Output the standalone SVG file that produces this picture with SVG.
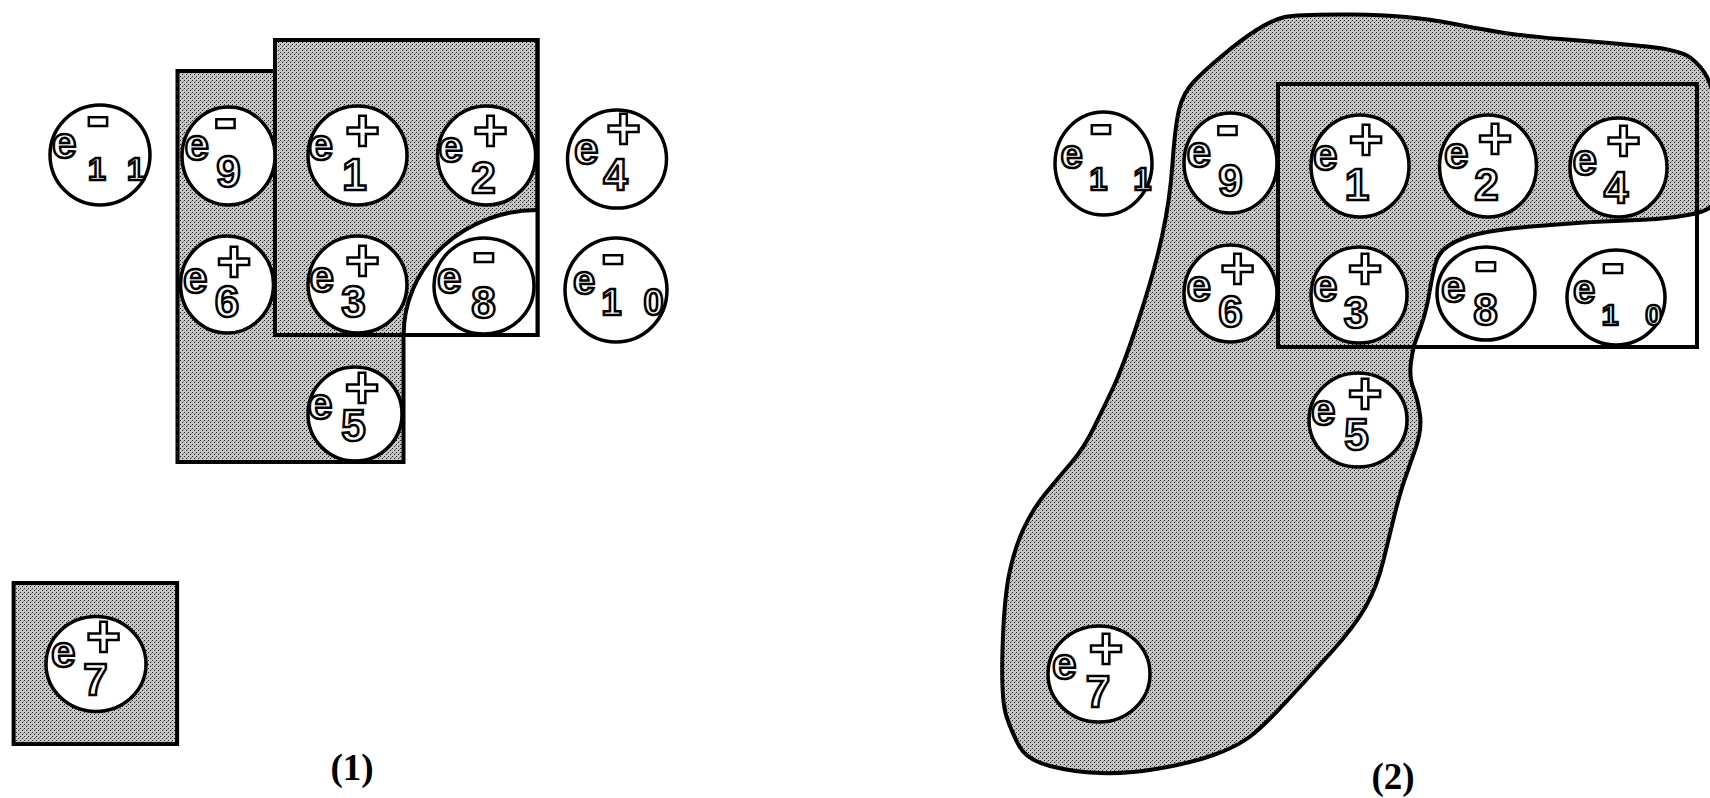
<svg xmlns="http://www.w3.org/2000/svg" width="1710" height="798" viewBox="0 0 1710 798">
<defs>
<pattern id="dots" width="4" height="4" patternUnits="userSpaceOnUse">
<rect width="4" height="4" fill="#c6c6c6"/>
<rect width="1" height="1" fill="#222"/>
<rect x="2" y="2" width="1" height="1" fill="#222"/>
<rect x="3" y="1" width="1" height="1" fill="#888"/>
</pattern>
<style>
.node{fill:#fff;stroke:#000;stroke-width:3.5}
.shade{fill:url(#dots);stroke:#000;stroke-width:4}
.line{fill:none;stroke:#000;stroke-width:4}
.t{font-family:"Liberation Sans",Arial,Helvetica,sans-serif;font-weight:bold;fill:#fff;stroke:#000;stroke-width:2.5}
.e{font-size:44px}
.sg{font-size:60px;text-anchor:middle}
.mn{font-size:72px;text-anchor:middle}
.sub{font-size:44px;text-anchor:middle}
.sub2{font-size:32px;text-anchor:middle}
.lbl{font-family:"Liberation Serif","Times New Roman",serif;font-weight:bold;font-size:37px;text-anchor:middle;fill:#000}
</style>
</defs>
<rect width="1710" height="798" fill="#fff"/>

<!-- panel 1 regions -->
<g id="p1-regions">
<rect class="shade" x="177.5" y="71" width="226" height="391"/>
<rect class="shade" x="275" y="40" width="262.5" height="295"/>
<path d="M403.6,335 A134,125 0 0 1 537.5,210 L537.5,335 Z" fill="#fff"/>
<path class="line" d="M403.6,335 A134,125 0 0 1 537.5,210"/>
<rect class="line" x="275" y="40" width="262.5" height="295"/>
<rect class="shade" x="13.6" y="583" width="163.5" height="161"/>
</g>

<!-- panel 2 regions -->
<g id="p2-regions">
<path class="shade" d="M1284.75,17 Q1297.5,14 1353,14.5 Q1409,15 1452,23.5 Q1495,32 1520,35 Q1545,38 1579,40.5 Q1613,43 1647,46.5 Q1681,50 1691.5,58.5 Q1702,67 1707,77 Q1712,87 1714,98.5 Q1716,110 1716,155 Q1716,200 1712,205.5 Q1708,211 1690.5,214.5 Q1673,218 1656.5,219 Q1640,220 1615,221 Q1590,222 1570,223.5 Q1550,225 1531.5,226.5 Q1513,228 1496.5,230.5 Q1480,233 1468.5,236.5 Q1457,240 1447.5,246.5 Q1438,253 1435,265 Q1432,277 1429.5,292 Q1427,307 1423.5,318.5 Q1420,330 1416.5,338.5 Q1413,347 1411,362 Q1409,377 1413.5,388.5 Q1418,400 1420,415 Q1422,430 1415.5,448.5 Q1409,467 1404.5,480 Q1400,493 1395,513 Q1390,533 1383.5,560 Q1377,587 1365.5,607 Q1354,627 1331.5,652 Q1309,677 1286,702 Q1263,727 1249.5,737 Q1236,747 1213.5,755 Q1191,763 1159,768.5 Q1127,774 1100,773 Q1073,772 1050,766 Q1027,760 1019.5,746.5 Q1012,733 1006.5,716.5 Q1001,700 1002.5,650 Q1004,600 1009,575 Q1014,550 1023,530 Q1032,510 1045.5,493.5 Q1059,477 1071.5,462.5 Q1084,448 1094,427.5 Q1104,407 1113.5,387 Q1123,367 1138.5,320 Q1154,273 1162,236.5 Q1170,200 1172.5,163.5 Q1175,127 1179,110 Q1183,93 1194,81.5 Q1205,70 1223,55 Q1241,40 1256.5,30 Q1272,20 1284.75,17 Z"/>
<rect class="line" x="1278" y="84" width="419" height="263"/>
</g>

<!-- panel 1 nodes -->
<g id="p1-e11" transform="translate(100,155)">
<ellipse class="node" rx="50" ry="50"/>
<text class="t"><tspan class="e" x="-48" y="3">e</tspan><tspan class="mn" x="-2" y="-15">-</tspan><tspan class="sub2" x="-3" y="25">1</tspan><tspan class="sub2" x="36" y="25">1</tspan></text>
</g>
<g id="p1-e9" transform="translate(228.5,156)">
<ellipse class="node" rx="46.5" ry="49"/>
<text class="t"><tspan class="e" x="-44" y="4">e</tspan><tspan class="mn" x="-3" y="-14">-</tspan><tspan class="sub" x="0" y="31">9</tspan></text>
</g>
<g id="p1-e1" transform="translate(357.5,155.5)">
<ellipse class="node" rx="49.5" ry="49.5"/>
<text class="t"><tspan class="e" x="-49" y="4">e</tspan><tspan class="sg" x="5" y="-5">+</tspan><tspan class="sub" x="-3" y="34">1</tspan></text>
</g>
<g id="p1-e2" transform="translate(486.6,155.5)">
<ellipse class="node" rx="49" ry="49.5"/>
<text class="t"><tspan class="e" x="-48" y="6">e</tspan><tspan class="sg" x="4" y="-5">+</tspan><tspan class="sub" x="-3" y="37">2</tspan></text>
</g>
<g id="p1-e4" transform="translate(617,159)">
<ellipse class="node" rx="49.5" ry="49"/>
<text class="t"><tspan class="e" x="-43" y="5">e</tspan><tspan class="sg" x="6.5" y="-10">+</tspan><tspan class="sub" x="-1.5" y="31">4</tspan></text>
</g>
<g id="p1-e6" transform="translate(227,284.5)">
<ellipse class="node" rx="46.5" ry="48.5"/>
<text class="t"><tspan class="e" x="-44" y="8">e</tspan><tspan class="sg" x="7" y="-3">+</tspan><tspan class="sub" x="0" y="32">6</tspan></text>
</g>
<g id="p1-e3" transform="translate(357.5,284.5)">
<ellipse class="node" rx="49.5" ry="48.5"/>
<text class="t"><tspan class="e" x="-48" y="7">e</tspan><tspan class="sg" x="5" y="-4">+</tspan><tspan class="sub" x="-4" y="32">3</tspan></text>
</g>
<g id="p1-e8" transform="translate(484,286)">
<ellipse class="node" rx="50" ry="48"/>
<text class="t"><tspan class="e" x="-47" y="7">e</tspan><tspan class="mn" x="0" y="-10">-</tspan><tspan class="sub" x="-0.5" y="32">8</tspan></text>
</g>
<g id="p1-e10" transform="translate(616,290)">
<ellipse class="node" rx="51" ry="52"/>
<text class="t"><tspan class="e" x="-43" y="4" style="font-size:40px">e</tspan><tspan class="mn" x="-3" y="-12">-</tspan><tspan class="sub2" x="-4.5" y="25" style="font-size:36px">1</tspan><tspan class="sub2" x="37.5" y="25" style="font-size:36px">0</tspan></text>
</g>
<g id="p1-e5" transform="translate(355,414)">
<ellipse class="node" rx="47" ry="47"/>
<text class="t"><tspan class="e" x="-47" y="5">e</tspan><tspan class="sg" x="7" y="-6">+</tspan><tspan class="sub" x="-1.5" y="27">5</tspan></text>
</g>
<g id="p1-e7" transform="translate(96,664)">
<ellipse class="node" rx="50" ry="47.5"/>
<text class="t"><tspan class="e" x="-45" y="3">e</tspan><tspan class="sg" x="7.5" y="-7">+</tspan><tspan class="sub" x="-0.5" y="31">7</tspan></text>
</g>

<!-- panel 2 nodes -->
<g id="p2-e11" transform="translate(1103.5,163.5)">
<ellipse class="node" rx="48.5" ry="51.5"/>
<text class="t"><tspan class="e" x="-43" y="4" style="font-size:40px">e</tspan><tspan class="mn" x="-2.5" y="-16">-</tspan><tspan class="sub2" x="-5" y="26">1</tspan><tspan class="sub2" x="39" y="26">1</tspan></text>
</g>
<g id="p2-e9" transform="translate(1230.5,163)">
<ellipse class="node" rx="46.5" ry="50"/>
<text class="t"><tspan class="e" x="-44" y="4">e</tspan><tspan class="mn" x="-3" y="-14">-</tspan><tspan class="sub" x="0" y="33">9</tspan></text>
</g>
<g id="p2-e1" transform="translate(1360,166)">
<ellipse class="node" rx="49" ry="51"/>
<text class="t"><tspan class="e" x="-47" y="4">e</tspan><tspan class="sg" x="6" y="-6">+</tspan><tspan class="sub" x="-3" y="34">1</tspan></text>
</g>
<g id="p2-e2" transform="translate(1488,166)">
<ellipse class="node" rx="48.5" ry="51"/>
<text class="t"><tspan class="e" x="-44" y="2">e</tspan><tspan class="sg" x="7" y="-7">+</tspan><tspan class="sub" x="-1.5" y="34">2</tspan></text>
</g>
<g id="p2-e4" transform="translate(1618.5,167.5)">
<ellipse class="node" rx="48.5" ry="49.5"/>
<text class="t"><tspan class="e" x="-46" y="7">e</tspan><tspan class="sg" x="5" y="-7">+</tspan><tspan class="sub" x="-2.5" y="35">4</tspan></text>
</g>
<g id="p2-e6" transform="translate(1230.5,293.5)">
<ellipse class="node" rx="46.5" ry="48.5"/>
<text class="t"><tspan class="e" x="-44" y="7">e</tspan><tspan class="sg" x="7" y="-5">+</tspan><tspan class="sub" x="0" y="33">6</tspan></text>
</g>
<g id="p2-e3" transform="translate(1359,295)">
<ellipse class="node" rx="48" ry="48"/>
<text class="t"><tspan class="e" x="-46" y="6">e</tspan><tspan class="sg" x="6" y="-6">+</tspan><tspan class="sub" x="-3" y="33">3</tspan></text>
</g>
<g id="p2-e8" transform="translate(1486,293.5)">
<ellipse class="node" rx="49" ry="46.5"/>
<text class="t"><tspan class="e" x="-45" y="8">e</tspan><tspan class="mn" x="0" y="-9">-</tspan><tspan class="sub" x="-0.5" y="31">8</tspan></text>
</g>
<g id="p2-e10" transform="translate(1616,297.5)">
<ellipse class="node" rx="49" ry="47.5"/>
<text class="t"><tspan class="e" x="-43" y="5" style="font-size:40px">e</tspan><tspan class="mn" x="-3" y="-11">-</tspan><tspan class="sub2" x="-6" y="27" style="font-size:30px">1</tspan><tspan class="sub2" x="37.5" y="27" style="font-size:30px">0</tspan></text>
</g>
<g id="p2-e5" transform="translate(1358,420)">
<ellipse class="node" rx="49" ry="47"/>
<text class="t"><tspan class="e" x="-47" y="5">e</tspan><tspan class="sg" x="7" y="-6">+</tspan><tspan class="sub" x="-1.5" y="30">5</tspan></text>
</g>
<g id="p2-e7" transform="translate(1099,674)">
<ellipse class="node" rx="51" ry="48"/>
<text class="t"><tspan class="e" x="-47" y="5">e</tspan><tspan class="sg" x="7" y="-5">+</tspan><tspan class="sub" x="-1" y="33">7</tspan></text>
</g>

<g id="labels">
<text class="lbl" x="352" y="780">(1)</text>
<text class="lbl" x="1393" y="789">(2)</text>
</g>
</svg>
